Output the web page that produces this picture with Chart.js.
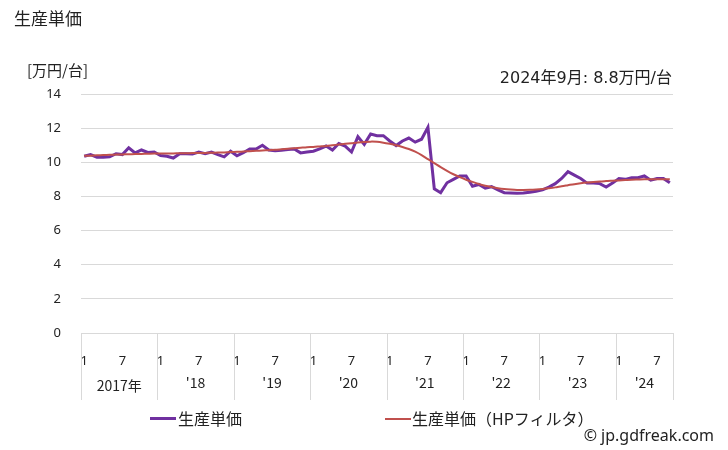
<!DOCTYPE html>
<html><head><meta charset="utf-8">
<script src="https://cdn.jsdelivr.net/npm/chart.js@4/dist/chart.umd.min.js"></script>
<style>
body{margin:0;width:728px;height:450px;position:relative;background:#fff;font-family:"Noto Sans CJK JP","Noto Sans",sans-serif;color:#222;overflow:hidden}
#c{position:absolute;left:0;top:0}
.t{position:absolute;white-space:nowrap;line-height:1}
.lg{position:absolute;height:0}
</style></head><body>
<canvas id="c" width="728" height="450"></canvas>
<div class="t" style="left:14px;top:9px;font-size:17px">生産単価</div>
<div class="t" style="left:27px;top:62px;font-size:15px">[万円/台]</div>
<div class="t" style="right:56px;top:70px;font-size:16px;font-family:'DejaVu Sans','Noto Sans CJK JP',sans-serif">2024年9月: 8.8万円/台</div>
<div class="lg" style="left:150px;top:417px;width:26px;border-top:3px solid #7030A0"></div>
<div class="t" style="left:178px;top:410px;font-size:16px">生産単価</div>
<div class="lg" style="left:385px;top:418px;width:26px;border-top:2px solid #C0504D"></div>
<div class="t" style="left:412px;top:410px;font-size:16px">生産単価（HPフィルタ）</div>
<div class="t" style="right:14px;top:427px;font-size:16px;font-family:'Noto Sans',sans-serif">© jp.gdfreak.com</div>
<script>
const yearLabels = ['2017年', "'18", "'19", "'20", "'21", "'22", "'23", "'24"];
const monthsPerYear = [12, 12, 12, 12, 12, 12, 12, 9];
const monthTickLabels = {1: '1', 7: '7'};
const yTicks = [0, 2, 4, 6, 8, 10, 12, 14];

const unitPrice = [
  10.35, 10.45, 10.30, 10.30, 10.32, 10.50, 10.45, 10.85, 10.55, 10.72, 10.58, 10.60,
  10.40, 10.35, 10.25, 10.50, 10.50, 10.48, 10.60, 10.50, 10.60, 10.45, 10.32, 10.65,
  10.38, 10.56, 10.78, 10.78, 11.00, 10.72, 10.68, 10.70, 10.75, 10.78, 10.55, 10.60,
  10.65, 10.78, 10.95, 10.72, 11.10, 10.95, 10.60, 11.50, 11.05, 11.66, 11.56, 11.56,
  11.25, 10.98, 11.25, 11.42, 11.18, 11.35, 12.05, 8.45, 8.22, 8.80, 9.00, 9.20,
  9.20, 8.60, 8.70, 8.48, 8.57, 8.38, 8.22, 8.20, 8.18, 8.20, 8.25, 8.30,
  8.38, 8.55, 8.75, 9.05, 9.45, 9.25, 9.05, 8.78, 8.78, 8.75, 8.55, 8.78,
  9.05, 9.00, 9.10, 9.10, 9.20, 8.95, 9.05, 9.05, 8.80
];
const hpFilter = [
  10.38, 10.39, 10.41, 10.42, 10.44, 10.45, 10.46, 10.47, 10.48, 10.49, 10.50, 10.51,
  10.51, 10.52, 10.52, 10.53, 10.53, 10.54, 10.54, 10.55, 10.56, 10.57, 10.58, 10.60,
  10.61, 10.63, 10.65, 10.67, 10.69, 10.71, 10.73, 10.76, 10.79, 10.82, 10.85, 10.88,
  10.90, 10.93, 10.96, 11.00, 11.04, 11.08, 11.12, 11.16, 11.19, 11.21, 11.20, 11.15,
  11.08, 11.00, 10.90, 10.78, 10.62, 10.42, 10.18, 9.95, 9.72, 9.50, 9.30, 9.13,
  8.98, 8.85, 8.73, 8.63, 8.55, 8.48, 8.43, 8.40, 8.38, 8.38, 8.39, 8.41,
  8.44, 8.48, 8.53, 8.60, 8.66, 8.72, 8.77, 8.81, 8.84, 8.87, 8.90, 8.92,
  8.94, 8.96, 8.98, 8.99, 9.00, 9.00, 9.01, 9.01, 9.00
];

// categories: one per month
const categories = [];
const categoryMonth = [];
yearLabels.forEach((y, k) => {
  for (let m = 1; m <= monthsPerYear[k]; m++) { categories.push(y + ' ' + m); categoryMonth.push(m); }
});

const yearPlugin = {
  id: 'years',
  afterDraw(c) {
    const xs = c.scales.x, ctx = c.ctx;
    const step = xs.getPixelForValue(1) - xs.getPixelForValue(0);
    const top = c.chartArea.bottom, bot = 400;
    ctx.save();
    ctx.strokeStyle = '#d9d9d9'; ctx.lineWidth = 1;
    let idx = 0;
    const edge = i => xs.getPixelForValue(i) - step / 2;
    yearLabels.forEach((y, k) => {
      const x0 = edge(idx), x1 = edge(idx + monthsPerYear[k]);
      ctx.beginPath(); ctx.moveTo(Math.round(x0) + 0.5, top); ctx.lineTo(Math.round(x0) + 0.5, bot); ctx.stroke();
      if (k === yearLabels.length - 1) { ctx.beginPath(); ctx.moveTo(Math.round(x1) + 0.5, top); ctx.lineTo(Math.round(x1) + 0.5, bot); ctx.stroke(); }
      ctx.fillStyle = '#222';
      ctx.font = '14px "Noto Sans CJK JP", sans-serif';
      ctx.textAlign = 'center'; ctx.textBaseline = 'middle';
      ctx.fillText(y, (x0 + x1) / 2, k === 0 ? 386 : 383);
      idx += monthsPerYear[k];
    });
    ctx.restore();
  }
};

new Chart(document.getElementById('c'), {
  type: 'line',
  data: {
    labels: categories,
    datasets: [
      {label: '生産単価', data: unitPrice, borderColor: '#7030A0', backgroundColor: '#7030A0', borderWidth: 3, pointRadius: 0, tension: 0, order: 1},
      {label: '生産単価（HPフィルタ）', data: hpFilter, borderColor: '#C0504D', backgroundColor: '#C0504D', borderWidth: 2, pointRadius: 0, tension: 0.3, order: 0}
    ]
  },
  options: {
    responsive: false, animation: false, devicePixelRatio: 1,
    layout: {padding: {top: 94, right: 55, left: 0, bottom: 0}},
    plugins: {legend: {display: false}, tooltip: {enabled: false}},
    scales: {
      x: {
        offset: true,
        grid: {display: false}, border: {display: false},
        ticks: {autoSkip: false, maxRotation: 0, minRotation: 0, padding: 12, color: '#222',
          font: {size: 13, family: '"Noto Sans", sans-serif'},
          callback: (v, i) => monthTickLabels[categoryMonth[i]] || ''},
        afterFit: s => { s.height = 117; }
      },
      y: {
        min: 0, max: 14,
        afterBuildTicks: s => { s.ticks = yTicks.map(v => ({value: v})); },
        grid: {color: '#d9d9d9', drawTicks: false}, border: {display: false},
        ticks: {padding: 20, color: '#222', font: {size: 13, family: '"Noto Sans", sans-serif'}},
        afterFit: s => { s.width = 81; }
      }
    }
  },
  plugins: [yearPlugin]
});
</script>
</body></html>
